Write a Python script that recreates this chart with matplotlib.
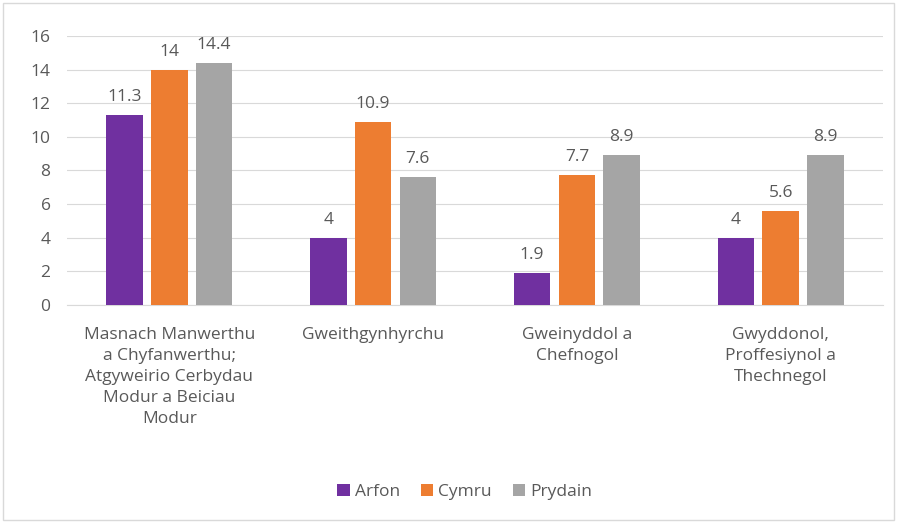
import matplotlib.pyplot as plt
import numpy as np
from matplotlib.patches import Rectangle

plt.rcParams['font.family'] = ['Open Sans', 'DejaVu Sans']

categories = ['Masnach Manwerthu\na Chyfanwerthu;\nAtgyweirio Cerbydau\nModur a Beiciau\nModur',
              'Gweithgynhyrchu',
              'Gweinyddol a\nChefnogol',
              'Gwyddonol,\nProffesiynol a\nThechnegol']
series_names = ['Arfon', 'Cymru', 'Prydain']
arfon = [11.3, 4, 1.9, 4]
cymru = [14, 10.9, 7.7, 5.6]
prydain = [14.4, 7.6, 8.9, 8.9]
colors = ['#7030A0', '#ED7D31', '#A5A5A5']
text_col = '#595959'

fig = plt.figure(figsize=(8.97, 5.22), dpi=100)
ax = fig.add_axes([0.075, 0.416, 0.909, 0.515])

x = np.arange(len(categories))
width = 0.18
step = 0.22
for i, (name, vals) in enumerate(zip(series_names, [arfon, cymru, prydain])):
    pos = x + (i - 1) * step
    ax.bar(pos, vals, width, color=colors[i], label=name, zorder=3)
    for p, v in zip(pos, vals):
        ax.text(p, v + 0.6, f'{v:g}', ha='center', va='bottom',
                fontsize=12.5, color=text_col)

ax.set_xlim(-0.5, len(categories) - 0.5)
ax.set_ylim(0, 16)
ax.set_yticks(range(0, 17, 2))
ax.grid(axis='y', color='#D9D9D9', linewidth=0.8, zorder=0)
for s in ['top', 'right', 'left']:
    ax.spines[s].set_visible(False)
ax.spines['bottom'].set_color('#D9D9D9')
ax.tick_params(axis='both', length=0, labelsize=12.5, labelcolor=text_col)
ax.tick_params(axis='x', pad=16)
ax.tick_params(axis='y', pad=12)
ax.set_xticks(x)
ax.set_xticklabels(categories, linespacing=1.42)

fig.legend(loc='center', bbox_to_anchor=(0.518, 0.057), ncol=3, frameon=False,
           fontsize=12.5, labelcolor=text_col, handlelength=0.7, handleheight=0.7,
           handletextpad=0.3, columnspacing=1.2)

fig.patches.append(Rectangle((0.003, 0.004), 0.994, 0.99, transform=fig.transFigure,
                             fill=False, edgecolor='#D9D9D9', linewidth=1))

fig.savefig('out.png', dpi=100)
